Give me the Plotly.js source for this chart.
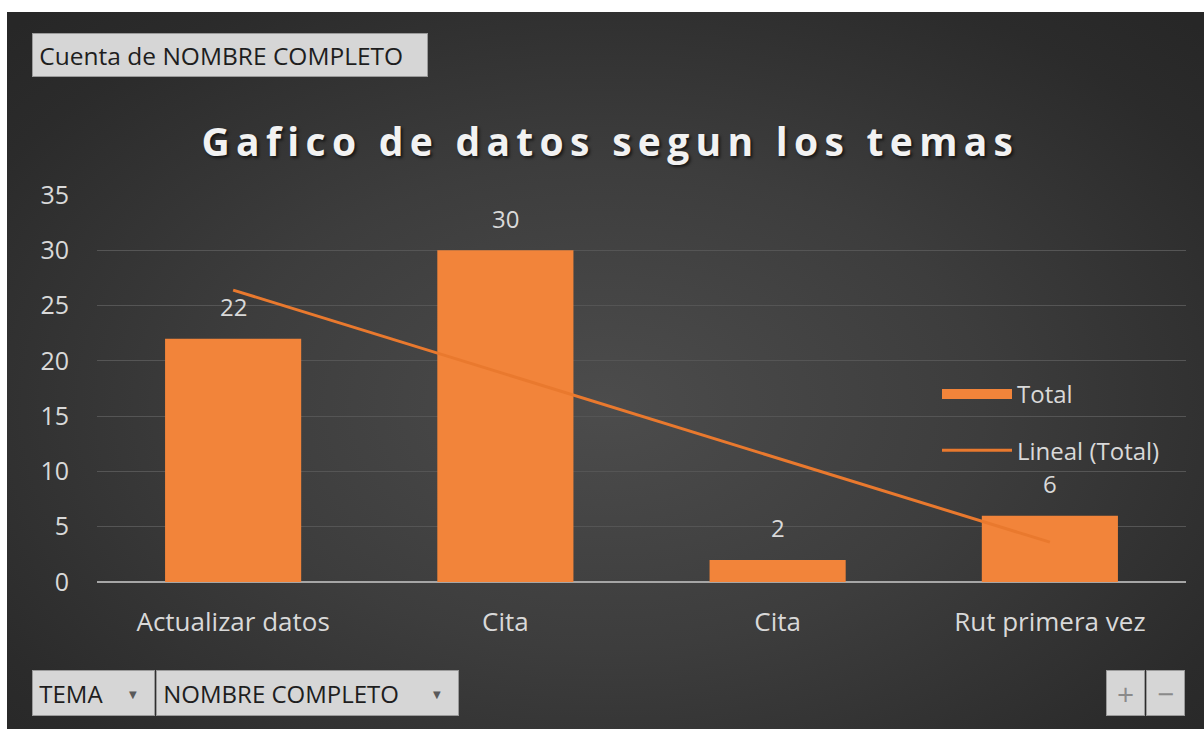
<!DOCTYPE html>
<html>
<head>
<meta charset="utf-8">
<script src="https://cdn.plot.ly/plotly-3.0.1.min.js"></script>
<style>
  html, body { margin:0; padding:0; background:#ffffff; width:1204px; height:729px; overflow:hidden; }
  #bg { position:absolute; left:7px; top:12px; width:1197px; height:717px;
        background: radial-gradient(ellipse 70% 75% at 50% 55%, #4c4c4c 0%, #3d3d3d 45%, #2b2b2b 85%, #272727 100%); }
  #chart { position:absolute; left:0; top:0; width:1204px; height:729px; }
  .gtitle { letter-spacing: 6.3px; }
</style>
</head>
<body>
<div id="bg"></div>
<div id="chart"></div>
<script>
// ---- data ----
const categories = ["Actualizar datos", "Cita", "Cita", "Rut primera vez"];
const totals = [22, 30, 2, 6];
const seriesName = "Total";
const trendName = "Lineal (Total)";
const yTicks = [0, 5, 10, 15, 20, 25, 30, 35];
const chartTitle = "Gafico de datos segun los temas";
const fieldButtonTop = "Cuenta de NOMBRE COMPLETO";
const fieldButtonsBottom = ["TEMA", "NOMBRE COMPLETO"];

// positions of categories (index), trendline by least squares from the data
const xs = categories.map((_, i) => i);
const n = totals.length;
const mx = xs.reduce((a, b) => a + b, 0) / n;
const my = totals.reduce((a, b) => a + b, 0) / n;
let sxy = 0, sxx = 0;
xs.forEach((x, i) => { sxy += (x - mx) * (totals[i] - my); sxx += (x - mx) * (x - mx); });
const slope = sxy / sxx;
const intercept = my - slope * mx;
const trendY = xs.map(x => intercept + slope * x);

// ---- layout helpers (pixel -> paper) ----
const W = 1204, H = 729, L = 97, R = 18, T = 195, B = 147;
const PW = W - L - R, PH = H - T - B;
const px = x => (x - L) / PW;
const py = y => (H - B - y) / PH;

const FONT = "Open Sans, Noto Sans, sans-serif";
const LABEL = "#d9d9d9";
const ORANGE = "#f2843a";

const traces = [
  {
    type: "bar", x: xs, y: totals, name: seriesName,
    width: 0.5,
    marker: { color: ORANGE },
    showlegend: false, hoverinfo: "skip"
  },
  {
    // legend entry for the bar series (wide swatch like the original)
    type: "scatter", mode: "lines", x: [null], y: [null], name: seriesName,
    line: { color: ORANGE, width: 14 },
    legendgroup: "a", hoverinfo: "skip"
  },
  {
    type: "scatter", mode: "lines", x: xs, y: trendY, name: trendName,
    line: { color: "#e9792e", width: 3 },
    legendgroup: "b", hoverinfo: "skip"
  }
];

const annotations = [];
// data labels
totals.forEach((v, i) => annotations.push({
  x: i, y: v, xref: "x", yref: "y", text: String(v), showarrow: false,
  yshift: 32, yanchor: "middle",
  font: { family: FONT, size: 24, color: LABEL }
}));

function button(x0, y0, x1, y1, text, size, color, align) {
  annotations.push({
    xref: "paper", yref: "paper",
    x: px(x0), y: py(y0), xanchor: "left", yanchor: "top",
    width: x1 - x0 - 2, height: y1 - y0 - 2,
    text: text, showarrow: false, align: align || "left", valign: "middle",
    bgcolor: "#d6d6d6", bordercolor: "#9a9a9a", borderwidth: 1, borderpad: 0,
    font: { family: FONT, size: size, color: color }
  });
}
function arrow(x, y) {
  annotations.push({
    xref: "paper", yref: "paper", x: px(x), y: py(y),
    xanchor: "center", yanchor: "middle", showarrow: false,
    text: "▼", font: { family: "DejaVu Sans", size: 10, color: "#5a5a5a" }
  });
}
button(32, 33, 428, 77, "&nbsp;" + fieldButtonTop, 24.5, "#1e1e1e");
button(32, 670, 155, 716, "&nbsp;" + fieldButtonsBottom[0], 24, "#1e1e1e");
button(156, 670, 459, 716, "&nbsp;" + fieldButtonsBottom[1], 24, "#1e1e1e");
arrow(133, 694);
arrow(437, 694);
button(1106, 670, 1145, 716, "+", 30, "#8a8a8a", "center");
button(1146, 670, 1185, 716, "−", 30, "#8a8a8a", "center");

const layout = {
  width: W, height: H,
  margin: { l: L, r: R, t: T, b: B, pad: 0, autoexpand: false },
  paper_bgcolor: "rgba(0,0,0,0)",
  plot_bgcolor: "rgba(0,0,0,0)",
  font: { family: FONT, color: LABEL },
  title: {
    text: "<b>" + chartTitle + "</b>",
    x: 0.507, xref: "container", xanchor: "center",
    y: 1 - 142 / H, yref: "container", yanchor: "middle",
    font: { family: FONT, size: 39, color: "#f2f2f2", shadow: "2px 2px 3px rgba(0,0,0,0.6)" }
  },
  xaxis: {
    range: [-0.5, 3.5], tickmode: "array", tickvals: xs, ticktext: categories,
    showgrid: false, zeroline: false, showline: false, ticks: "",
    ticklabelstandoff: 22,
    tickfont: { family: FONT, size: 26, color: LABEL }, fixedrange: true
  },
  yaxis: {
    range: [0, 35], tickmode: "array", tickvals: yTicks,
    showgrid: true, gridcolor: "#555555", gridwidth: 1,
    zeroline: true, zerolinecolor: "#a6a6a6", zerolinewidth: 2,
    ticks: "", ticklabelstandoff: 27,
    tickfont: { family: FONT, size: 25, color: LABEL }, fixedrange: true
  },
  showlegend: true,
  legend: {
    xref: "paper", yref: "paper",
    x: px(937), y: py(372), xanchor: "left", yanchor: "top",
    bgcolor: "rgba(0,0,0,0)", borderwidth: 0,
    font: { family: FONT, size: 24, color: LABEL },
    traceorder: "grouped", tracegroupgap: 22, itemwidth: 70
  },
  annotations: annotations
};

Plotly.newPlot("chart", traces, layout, { staticPlot: true, displayModeBar: false });
</script>
</body>
</html>
